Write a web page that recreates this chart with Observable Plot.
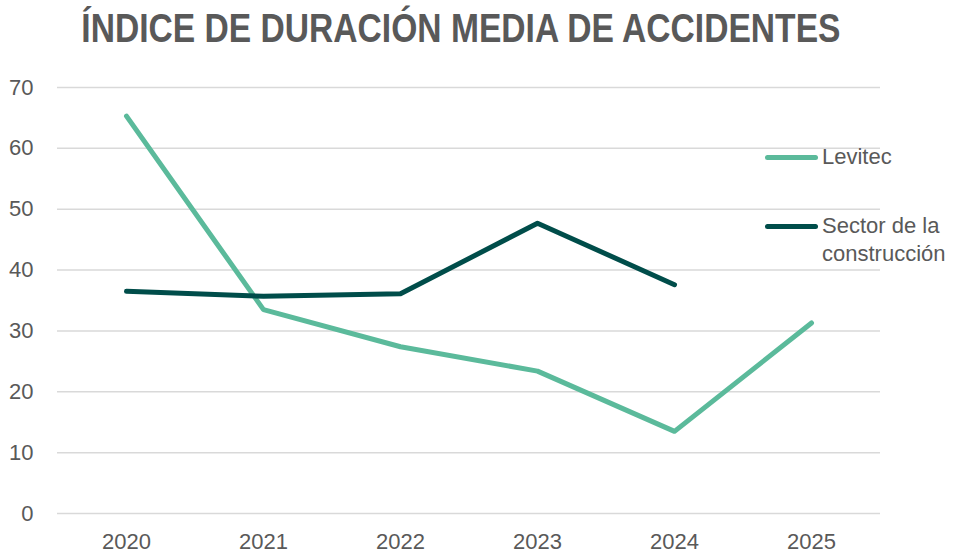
<!DOCTYPE html>
<html>
<head>
<meta charset="utf-8">
<script src="https://cdn.jsdelivr.net/npm/d3@7"></script>
<script src="https://cdn.jsdelivr.net/npm/@observablehq/plot@0.6"></script>
<style>
  html, body { margin: 0; padding: 0; background: #fff; }
  #wrap { position: relative; width: 960px; height: 554px; overflow: hidden; font-family: "Liberation Sans", Arial, sans-serif; }
  #title { height: 72px; box-sizing: border-box; padding-top: 6px; width: 922px; text-align: center;
    font-family: "Liberation Sans", Arial, sans-serif;
    font-weight: bold; font-size: 40px; color: #595959; line-height: 44px; white-space: nowrap; }
  #title span { display: inline-block; transform: scaleX(0.84); transform-origin: center; }
  #legend { position: absolute; left: 765px; top: 143px; font-size: 22px; color: #595959; line-height: 28px; }
  .row { display: flex; align-items: flex-start; position: absolute; left: 0; white-space: nowrap; }
  .sw { width: 53px; height: 5px; border-radius: 3px; margin-top: 12px; margin-right: 4px; }
</style>
</head>
<body>
<div id="wrap">
  <div id="title"><span></span></div>
  <div id="chart"></div>
  <div id="legend"></div>
</div>
<script>
const title = "ÍNDICE DE DURACIÓN MEDIA DE ACCIDENTES";
const years = ["2020", "2021", "2022", "2023", "2024", "2025"];
const levitec = [65.3, 33.5, 27.4, 23.4, 13.5, 31.3];
const sector = [36.5, 35.7, 36.1, 47.7, 37.6, null];
const yTicks = [0, 10, 20, 30, 40, 50, 60, 70];
const seriesNames = ["Levitec", "Sector de la construcción"];
const seriesColors = ["#5BBA9B", "#004D4A"];

document.querySelector("#title span").textContent = title;

const rows = [];
years.forEach((y, i) => {
  if (levitec[i] != null) rows.push({year: y, value: levitec[i], series: seriesNames[0]});
});
years.forEach((y, i) => {
  if (sector[i] != null) rows.push({year: y, value: sector[i], series: seriesNames[1]});
});

const chart = Plot.plot({
  width: 960,
  height: 482,
  marginTop: 15,
  marginBottom: 41,
  marginLeft: 57,
  marginRight: 80,
  style: {fontFamily: "'Liberation Sans', Arial, sans-serif", fontSize: "22px", color: "#595959", background: "#fff"},
  x: {type: "point", domain: years, padding: 0.5, label: null},
  y: {domain: [0, 70], label: null},
  color: {domain: seriesNames, range: seriesColors},
  marks: [
    Plot.gridY(yTicks, {stroke: "#d9d9d9", strokeOpacity: 1, strokeWidth: 1.5}),
    Plot.axisY(yTicks, {tickSize: 0, tickPadding: 24, label: null, fill: "#595959"}),
    Plot.axisX({tickSize: 0, tickPadding: 20, label: null, fill: "#595959"}),
    Plot.line(rows, {x: "year", y: "value", z: "series", stroke: "series", strokeWidth: 5,
      strokeLinecap: "round", strokeLinejoin: "round"})
  ]
});
document.getElementById("chart").appendChild(chart);

const legend = document.getElementById("legend");
const labels = [["Levitec"], ["Sector de la", "construcción"]];
const tops = [0, 69];
seriesNames.forEach((n, i) => {
  const row = document.createElement("div");
  row.className = "row";
  row.style.top = tops[i] + "px";
  const sw = document.createElement("div");
  sw.className = "sw";
  sw.style.background = seriesColors[i];
  const tx = document.createElement("div");
  tx.innerHTML = labels[i].join("<br>");
  row.appendChild(sw);
  row.appendChild(tx);
  legend.appendChild(row);
});
</script>
</body>
</html>
